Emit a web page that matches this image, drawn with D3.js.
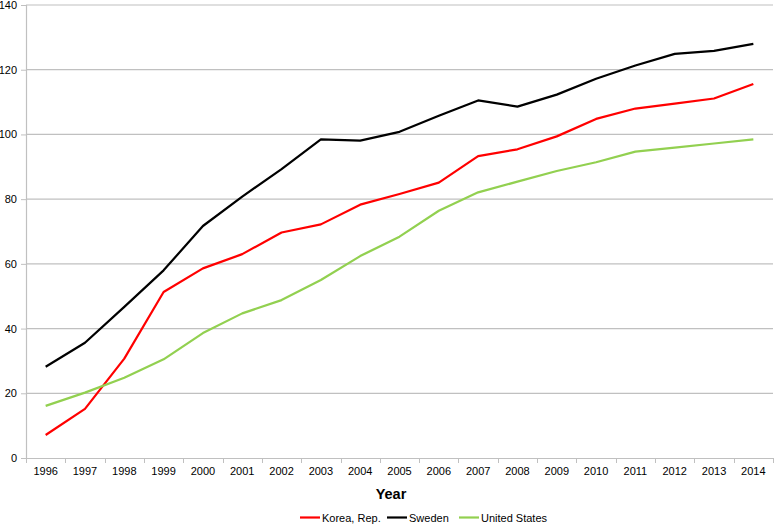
<!DOCTYPE html>
<html>
<head>
<meta charset="utf-8">
<script src="https://cdn.jsdelivr.net/npm/d3@7"></script>
<style>
  body { margin: 0; background: #fff; }
  text { font-family: "Liberation Sans", Arial, sans-serif; fill: #000; }
</style>
</head>
<body>
<div id="chart"></div>
<script>
var years = ["1996", "1997", "1998", "1999", "2000", "2001", "2002", "2003", "2004", "2005",
  "2006", "2007", "2008", "2009", "2010", "2011", "2012", "2013", "2014"];

var korea = [7.1, 15.2, 30.7, 51.3, 58.6, 63.0, 69.7, 72.2, 78.3, 81.6,
  85.1, 93.3, 95.4, 99.4, 104.8, 108.0, 109.5, 111.1, 115.6];
var sweden = [28.2, 35.6, 46.7, 58.0, 71.7, 80.8, 89.3, 98.5, 98.1, 100.8,
  105.8, 110.5, 108.6, 112.3, 117.2, 121.3, 124.9, 125.8, 128.0];
var unitedStates = [16.1, 20.2, 24.8, 30.5, 38.6, 44.7, 48.8, 55.0, 62.4, 68.4,
  76.4, 82.1, 85.4, 88.7, 91.4, 94.7, 95.9, 97.2, 98.5];

var yTicks = [0, 20, 40, 60, 80, 100, 120, 140];

var seriesNames = ["Korea, Rep.", "Sweden", "United States"];
var seriesColors = ["#ff0000", "#000000", "#92d050"];
var seriesValues = [korea, sweden, unitedStates];

var svgWidth = 778;
var svgHeight = 525;

var margin = { top: 5, right: 5, bottom: 67, left: 26 };
var width = svgWidth - margin.left - margin.right;
var height = svgHeight - margin.top - margin.bottom;

var svg = d3.select("#chart")
  .append("svg")
  .attr("width", svgWidth)
  .attr("height", svgHeight);

var chartGroup = svg.append("g")
  .attr("transform", `translate(${margin.left}, ${margin.top})`);

var xScale = d3.scaleBand()
  .domain(years)
  .range([0, width]);

var yScale = d3.scaleLinear()
  .domain([0, 140])
  .range([height, 0]);

// gridlines
chartGroup.selectAll(".grid")
  .data(yTicks.filter(d => d > 0))
  .enter()
  .append("line")
  .attr("x1", 0)
  .attr("x2", width)
  .attr("y1", d => yScale(d))
  .attr("y2", d => yScale(d))
  .attr("stroke", "#c0c0c0")
  .attr("stroke-width", 1.2);

// y axis
var leftAxis = d3.axisLeft(yScale)
  .tickValues(yTicks)
  .tickSize(5)
  .tickPadding(4);

var yAxis = chartGroup.append("g").call(leftAxis);
yAxis.select(".domain").attr("stroke", "#c0c0c0").attr("stroke-width", 1.2);
yAxis.selectAll(".tick line").attr("stroke", "#c0c0c0");
yAxis.selectAll("text").style("font-size", "11px");

// x axis: ticks sit between categories
var xAxis = chartGroup.append("g")
  .attr("transform", `translate(0, ${height})`)
  .call(d3.axisBottom(xScale).tickSize(0).tickPadding(9));
xAxis.select(".domain").attr("stroke", "#c0c0c0").attr("stroke-width", 1.2);
xAxis.selectAll("text").style("font-size", "11px");

xAxis.selectAll(".sep")
  .data(d3.range(years.length + 1))
  .enter()
  .append("line")
  .attr("x1", i => Math.round(i * xScale.step()) + 0.5)
  .attr("x2", i => Math.round(i * xScale.step()) + 0.5)
  .attr("y1", 0)
  .attr("y2", 5)
  .attr("stroke", "#c0c0c0");

// lines
var line = d3.line()
  .x((d, i) => xScale(years[i]) + xScale.bandwidth() / 2)
  .y(d => yScale(d));

seriesValues.forEach(function (values, k) {
  chartGroup.append("path")
    .datum(values)
    .attr("fill", "none")
    .attr("stroke", seriesColors[k])
    .attr("stroke-width", 2.2)
    .attr("stroke-linejoin", "round")
    .attr("d", line);
});

// axis title
svg.append("text")
  .attr("x", 391)
  .attr("y", 499)
  .attr("text-anchor", "middle")
  .style("font-size", "14.5px")
  .style("font-weight", "bold")
  .text("Year");

// legend
var legendX = [300, 387, 459];
var legend = svg.append("g");
seriesNames.forEach(function (name, k) {
  legend.append("line")
    .attr("x1", legendX[k])
    .attr("x2", legendX[k] + 20)
    .attr("y1", 517.5)
    .attr("y2", 517.5)
    .attr("stroke", seriesColors[k])
    .attr("stroke-width", 2.2);
  legend.append("text")
    .attr("x", legendX[k] + 22)
    .attr("y", 521.5)
    .style("font-size", "11px")
    .text(name);
});
</script>
</body>
</html>
